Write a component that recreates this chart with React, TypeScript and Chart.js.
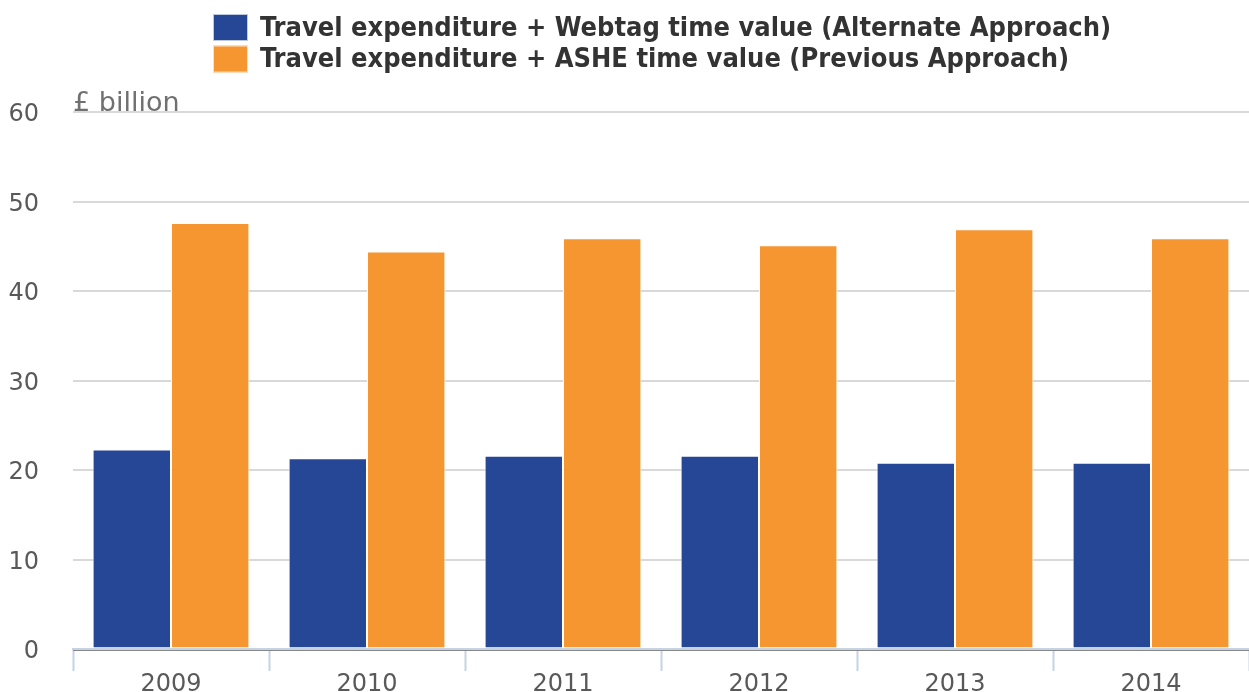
import React, { useEffect, useRef } from "react";
import { Chart, registerables } from "chart.js";

Chart.register(...registerables);

const categories = ["2009", "2010", "2011", "2012", "2013", "2014"];
const webtagValues = [22.3, 21.3, 21.6, 21.6, 20.8, 20.8];
const asheValues = [47.6, 44.4, 45.9, 45.1, 46.9, 45.9];
const seriesNames = [
  "Travel expenditure + Webtag time value (Alternate Approach)",
  "Travel expenditure + ASHE time value (Previous Approach)",
];
const seriesColors = ["#264796", "#f59630"];
const yTicks = [0, 10, 20, 30, 40, 50, 60];
const unitLabel = "£ billion";

const legendPlugin = {
  id: "customLegend",
  afterDraw(chart: any) {
    const ctx = chart.ctx;
    ctx.save();
    const boxX = 213;
    const boxW = 35;
    const boxH = 27;
    const rows = [14, 45.5];
    seriesNames.forEach((name, i) => {
      const y = rows[i];
      ctx.fillStyle = seriesColors[i];
      ctx.fillRect(boxX, y, boxW, boxH);
      ctx.strokeStyle = "rgba(255,255,255,0.7)";
      ctx.lineWidth = 1;
      ctx.strokeRect(boxX + 0.5, y + 0.5, boxW - 1, boxH - 1);
      ctx.fillStyle = "#333333";
      ctx.font = 'bold 27px "DejaVu Sans Condensed", "DejaVu Sans"';
      ctx.textBaseline = "middle";
      ctx.textAlign = "left";
      ctx.fillText(name, 260, y + boxH / 2 + 1);
    });
    ctx.fillStyle = "#707070";
    ctx.font = '27px "DejaVu Sans"';
    ctx.textBaseline = "alphabetic";
    ctx.fillText(unitLabel, chart.chartArea.left, 111);
    ctx.restore();
  },
};

export default function App() {
  const canvasRef = useRef<HTMLCanvasElement | null>(null);

  useEffect(() => {
    document.body.style.margin = "0";
    const canvas = canvasRef.current;
    if (!canvas) return;
    const chart = new Chart(canvas, {
      type: "bar",
      data: {
        labels: categories,
        datasets: [
          {
            label: seriesNames[0],
            data: webtagValues,
            backgroundColor: seriesColors[0],
            borderColor: "rgba(255,255,255,0.85)",
            borderWidth: 1,
            categoryPercentage: 0.8,
            barPercentage: 1.0,
          },
          {
            label: seriesNames[1],
            data: asheValues,
            backgroundColor: seriesColors[1],
            borderColor: "rgba(255,255,255,0.85)",
            borderWidth: 1,
            categoryPercentage: 0.8,
            barPercentage: 1.0,
          },
        ],
      },
      plugins: [legendPlugin],
      options: {
        animation: false,
        responsive: false,
        maintainAspectRatio: false,
        layout: { padding: { top: 112, right: 0, left: 0, bottom: 0 } },
        plugins: {
          legend: { display: false },
          tooltip: { enabled: false },
          title: { display: false },
        },
        scales: {
          x: {
            grid: {
              display: true,
              drawOnChartArea: false,
              offset: true,
              tickLength: 22,
              tickColor: "#c6d3e2",
              tickWidth: 2,
            },
            border: { display: true, color: "#c6d3e2", width: 2 },
            ticks: {
              color: "#595959",
              font: { family: '"DejaVu Sans"', size: 24, lineHeight: 1.0 },
              padding: 2,
            },
            afterFit(scale: any) {
              scale.height = 43;
            },
          },
          y: {
            min: 0,
            max: 60,
            afterBuildTicks(scale: any) {
              scale.ticks = yTicks.map((v) => ({ value: v }));
            },
            grid: {
              drawTicks: true,
              tickLength: 34,
              tickColor: "rgba(0,0,0,0)",
              color: (c: any) => (c.tick && c.tick.value === 0 ? "#888888" : "#d9d9d9"),
              lineWidth: (c: any) => (c.tick && c.tick.value === 0 ? 3 : 2),
            },
            border: { display: false },
            ticks: {
              color: "#595959",
              font: { family: '"DejaVu Sans"', size: 24 },
              padding: 0,
              labelOffset: 3,
            },
            afterFit(scale: any) {
              scale.width = 73;
            },
          },
        },
      },
    });
    return () => chart.destroy();
  }, []);

  return (
    <div style={{ width: 1249, height: 692 }}>
      <canvas ref={canvasRef} width={1249} height={692} style={{ width: 1249, height: 692, display: "block" }} />
    </div>
  );
}
